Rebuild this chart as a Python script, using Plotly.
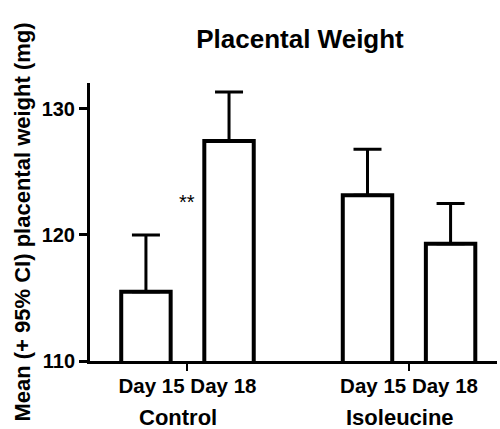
import plotly.graph_objects as go

# ---- data ----
groups = ["Control", "Isoleucine"]
days = ["Day 15", "Day 18"]
mean_day15 = [115.5, 123.15]
mean_day18 = [127.45, 119.3]
ci_upper_day15 = [120.0, 126.8]
ci_upper_day18 = [131.35, 122.5]
y_ticks = [110, 120, 130]
sig_marks = ["**", ""]
sig_level = 122.6

means = [mean_day15, mean_day18]
uppers = [ci_upper_day15, ci_upper_day18]

FONT = "Liberation Sans, Arial, sans-serif"

fig = go.Figure()
for d, m, u in zip(days, means, uppers):
    fig.add_trace(go.Bar(
        name=d, x=groups, y=m,
        marker=dict(color="white", line=dict(color="black", width=4)),
        error_y=dict(type="data", symmetric=False,
                     array=[uu - mm for uu, mm in zip(u, m)],
                     arrayminus=[0 for _ in m],
                     color="black", thickness=3, width=14),
        showlegend=False,
    ))

fig.update_layout(
    width=500, height=429,
    margin=dict(l=90, r=3, t=83, b=68),
    barmode="group", bargap=0.25, bargroupgap=0.405,
    paper_bgcolor="white", plot_bgcolor="white",
    font=dict(family=FONT, color="black"),
    title=dict(text="Placental Weight", x=0.6, xref="container", xanchor="center",
               y=1 - 39 / 429, yref="container", yanchor="middle",
               font=dict(size=26, family=FONT, weight="bold", color="black")),
    xaxis=dict(range=[-0.44, 1.397], showline=True, linewidth=3, linecolor="black",
               ticks="outside", ticklen=7, tickwidth=2, tickcolor="black",
               tickvals=groups, ticktext=[" ".join(days)] * len(groups),
               ticklabelstandoff=-3,
               tickfont=dict(size=20.5, family=FONT, weight="bold"),
               showgrid=False, zeroline=False),
    yaxis=dict(range=[110, 132.06], showline=True, linewidth=3, linecolor="black",
               ticks="outside", ticklen=8, tickwidth=3, tickcolor="black",
               tickvals=y_ticks, tickfont=dict(size=20, family=FONT, weight="bold"),
               title=dict(text="Mean (+ 95% CI) placental weight (mg)", standoff=5,
                          font=dict(size=22, family=FONT, weight="bold")),
               showgrid=False, zeroline=False),
)

for g in groups:
    fig.add_annotation(x=g, y=0, yref="paper", yanchor="top", xshift=-9, yshift=-42,
                       text=g, showarrow=False,
                       font=dict(size=22, family=FONT, weight="bold"))

for g, s in zip(groups, sig_marks):
    if s:
        fig.add_annotation(x=g, y=sig_level, text=s, showarrow=False,
                           font=dict(size=20, family=FONT))

fig.write_html("out.html", config={"displayModeBar": False},
               post_script="document.body.style.margin='0px';document.body.style.overflow='hidden';")
